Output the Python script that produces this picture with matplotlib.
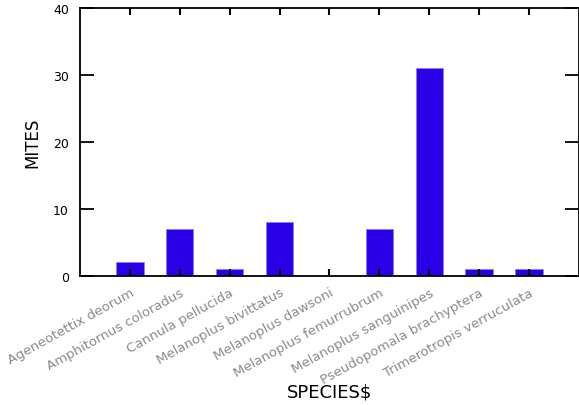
import matplotlib
matplotlib.use("Agg")
import matplotlib.pyplot as plt
import matplotlib.transforms as mtransforms

species = ["Ageneotettix deorum", "Amphitornus coloradus", "Cannula pellucida",
           "Melanoplus bivittatus", "Melanoplus dawsoni", "Melanoplus femurrubrum",
           "Melanoplus sanguinipes", "Pseudopomala brachyptera", "Trimerotropis verruculata"]
mites = [2, 7, 1, 8, 0, 7, 31, 1, 1]

fig = plt.figure(figsize=(5.79, 4.06), dpi=100)
ax = fig.add_axes([0.138, 0.318, 0.862, 0.66])

x = list(range(len(species)))
ax.bar(x, mites, width=0.55, color="#2a00e6", edgecolor="#8c7cff", linewidth=0.6)

ax.set_xlim(-1, 9)
ax.set_ylim(0, 40)
ax.set_yticks([0, 10, 20, 30, 40])
ax.set_xticks(x)
ax.set_xticklabels(species, rotation=29, ha="right", va="top", fontsize=9.5,
                   color="#8a8a8a", rotation_mode="anchor")
offset = mtransforms.ScaledTranslation(14 / 100, 0, fig.dpi_scale_trans)
for lab in ax.get_xticklabels():
    lab.set_transform(lab.get_transform() + offset)

ax.tick_params(axis="y", direction="in", length=10, width=1.3, left=True, right=True,
               labelsize=9, pad=8)
ax.tick_params(axis="x", direction="in", length=5, width=1.5, top=True, bottom=True, pad=7)
for s in ["left", "bottom", "top", "right"]:
    ax.spines[s].set_linewidth(1.3)

ax.set_ylabel("MITES", fontsize=12, labelpad=8)
fig.text(0.57, 0.01, "SPECIES$", fontsize=13, ha="center", va="bottom")

fig.savefig("out.png", dpi=100)
